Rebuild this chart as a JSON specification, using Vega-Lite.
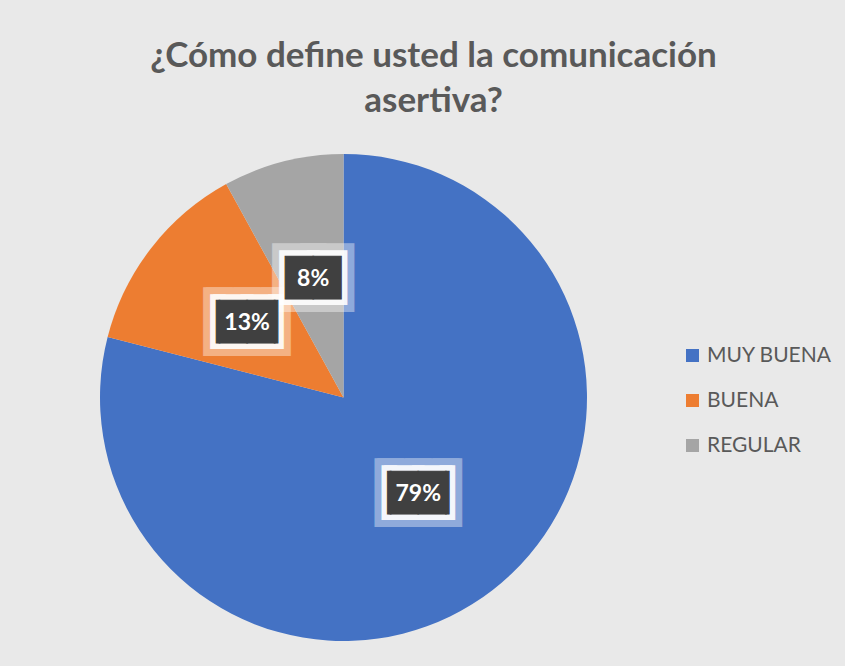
{
  "$schema": "https://vega.github.io/schema/vega-lite/v6.json",
  "width": 487,
  "height": 487,
  "autosize": {"type": "none"},
  "padding": {"left": 100, "top": 154, "right": 258, "bottom": 25},
  "background": "#e9e9e9",
  "title": {
    "text": ["¿Cómo define usted la comunicación", "asertiva?"],
    "font": "Lato",
    "fontSize": 35,
    "fontWeight": "bold",
    "color": "#595959",
    "anchor": "middle",
    "dx": 90,
    "lineHeight": 45,
    "offset": 35
  },
  "data": {
    "values": [
      {"categoria": "MUY BUENA", "porcentaje": 0.79, "orden": 1},
      {"categoria": "BUENA", "porcentaje": 0.13, "orden": 2},
      {"categoria": "REGULAR", "porcentaje": 0.08, "orden": 3}
    ]
  },
  "encoding": {
    "theta": {"field": "porcentaje", "type": "quantitative", "stack": true},
    "order": {"field": "orden", "type": "quantitative"},
    "color": {
      "field": "categoria",
      "type": "nominal",
      "sort": ["MUY BUENA", "BUENA", "REGULAR"],
      "scale": {"domain": ["MUY BUENA", "BUENA", "REGULAR"], "range": ["#4472C4", "#ED7D31", "#A5A5A5"]},
      "legend": {
        "title": null,
        "orient": "none",
        "legendX": 582,
        "legendY": 191,
        "symbolType": "square",
        "symbolSize": 170,
        "symbolStrokeWidth": 0,
        "labelFont": "Lato",
        "labelFontSize": 21,
        "labelColor": "#595959",
        "labelOffset": 4,
        "rowPadding": 23,
        "padding": 0
      }
    }
  },
  "layer": [
    {"mark": {"type": "arc"}},
    {
      "mark": {"type": "text", "radius": 122, "font": "DejaVu Sans", "fontSize": 36, "baseline": "middle", "fill": "#ffffff", "stroke": "#ffffff", "strokeWidth": 26, "strokeJoin": "miter", "opacity": 0.4},
      "encoding": {
        "text": {"condition": {"test": "datum.porcentaje < 0.1", "value": "██"}, "value": "▕██▏"},
        "color": {"value": "#ffffff"}
      }
    },
    {
      "mark": {"type": "text", "radius": 122, "font": "DejaVu Sans", "fontSize": 36, "baseline": "middle", "fill": "#ffffff", "stroke": "#ffffff", "strokeWidth": 12, "strokeJoin": "miter", "opacity": 0.9},
      "encoding": {
        "text": {"condition": {"test": "datum.porcentaje < 0.1", "value": "██"}, "value": "▕██▏"},
        "color": {"value": "#ffffff"}
      }
    },
    {
      "mark": {"type": "text", "radius": 122, "font": "DejaVu Sans", "fontSize": 36, "baseline": "middle", "fill": "#404040", "stroke": "#404040", "strokeWidth": 1},
      "encoding": {
        "text": {"condition": {"test": "datum.porcentaje < 0.1", "value": "██"}, "value": "▕██▏"},
        "color": {"value": "#404040"}
      }
    },
    {
      "mark": {"type": "text", "radius": 122, "font": "Lato", "fontSize": 23, "fontWeight": "bold", "baseline": "middle", "fill": "#ffffff"},
      "encoding": {"text": {"field": "porcentaje", "type": "quantitative", "format": ".0%"}, "color": {"value": "#ffffff"}}
    }
  ],
  "config": {"view": {"stroke": null}}
}
